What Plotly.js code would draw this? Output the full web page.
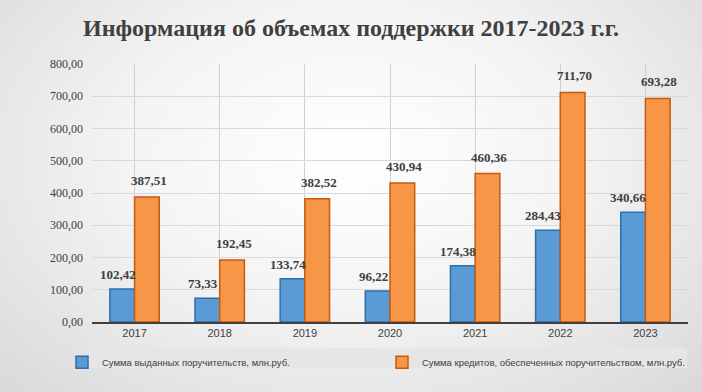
<!DOCTYPE html>
<html><head><meta charset="utf-8">
<script src="https://cdn.plot.ly/plotly-3.0.1.min.js"></script>
<style>
html,body{margin:0;padding:0;}
body{width:702px;height:392px;background:radial-gradient(ellipse at 50% 40%, #ffffff 0%, #f4f4f4 45%, #d9d9d9 100%);}
#chart{width:702px;height:392px;}
</style></head>
<body><div id="chart"></div>
<script>
const years = ['2017','2018','2019','2020','2021','2022','2023'];
const guarantees = [102.42, 73.33, 133.74, 96.22, 174.38, 284.43, 340.66];
const credits = [387.51, 192.45, 382.52, 430.94, 460.36, 711.70, 693.28];
const seriesNames = ['Сумма выданных поручительств, млн.руб.', 'Сумма кредитов, обеспеченных поручительством, млн.руб.'];
const titleText = 'Информация об объемах поддержки 2017-2023 г.г.';

const labelFont = {family:'Liberation Serif, Times New Roman, serif', size:13, color:'#404040'};
const fmt = v => v.toFixed(2).replace('.', ',');
const traces = [
  {type:'bar', name:seriesNames[0], x:years, y:guarantees,
   marker:{color:'#5b9bd5', line:{color:'#2e6eaa', width:1.5}}},
  {type:'bar', name:seriesNames[1], x:years, y:credits,
   marker:{color:'#f79646', line:{color:'#c55a11', width:1.5}}}
];
const annotations = [];
years.forEach((yr, i) => {
  annotations.push({x:i, y:guarantees[i], xref:'x', yref:'y', text:'<b>'+fmt(guarantees[i])+'</b>',
    showarrow:false, yanchor:'bottom', xshift:-17, yshift:5, font:labelFont});
  annotations.push({x:i, y:credits[i], xref:'x', yref:'y', text:'<b>'+fmt(credits[i])+'</b>',
    showarrow:false, yanchor:'bottom', xshift:14, yshift:7, font:labelFont});
});
const layout = {
  width:702, height:392,
  paper_bgcolor:'rgba(0,0,0,0)', plot_bgcolor:'rgba(0,0,0,0)',
  separators:', ',
  margin:{l:92, r:14, t:64, b:70},
  title:{text:'<b>'+titleText+'</b>', x:0.5, xanchor:'center', y:0.93, yanchor:'middle',
         font:{family:'Liberation Serif, Times New Roman, serif', size:24, color:'#404040'}},
  barmode:'group', bargap:0.42, bargroupgap:0,
  xaxis:{type:'category', showgrid:true, gridcolor:'#d0d0d0', tickfont:{family:'Liberation Sans, Arial, sans-serif', size:11, color:'#404040'},
         showline:true, linecolor:'#404040', linewidth:2, ticks:''},
  yaxis:{range:[0,800], dtick:100, tickformat:'.2f', showgrid:true, gridcolor:'#d9d9d9', zeroline:false,
         tickfont:{family:'Liberation Serif, Times New Roman, serif', size:12, color:'#404040'}, ticklabelstandoff:8},
  showlegend:true,
  legend:{orientation:'h', x:-0.04, xanchor:'left', y:-0.1, yanchor:'top', bgcolor:'rgba(0,0,0,0)',
          font:{family:'Liberation Sans, Arial, sans-serif', size:9.5, color:'#404040'},
          traceorder:'normal', itemwidth:30, entrywidth:275, entrywidthmode:'pixels'},
  annotations: annotations,
  shapes:[{type:'rect', xref:'paper', yref:'paper', x0:-0.005, x1:0.998, y0:-0.178, y1:-0.1,
           fillcolor:'#e6e6e6', line:{width:0}, layer:'below'}]
};
Plotly.newPlot('chart', traces, layout, {displayModeBar:false, staticPlot:true});
</script></body></html>
